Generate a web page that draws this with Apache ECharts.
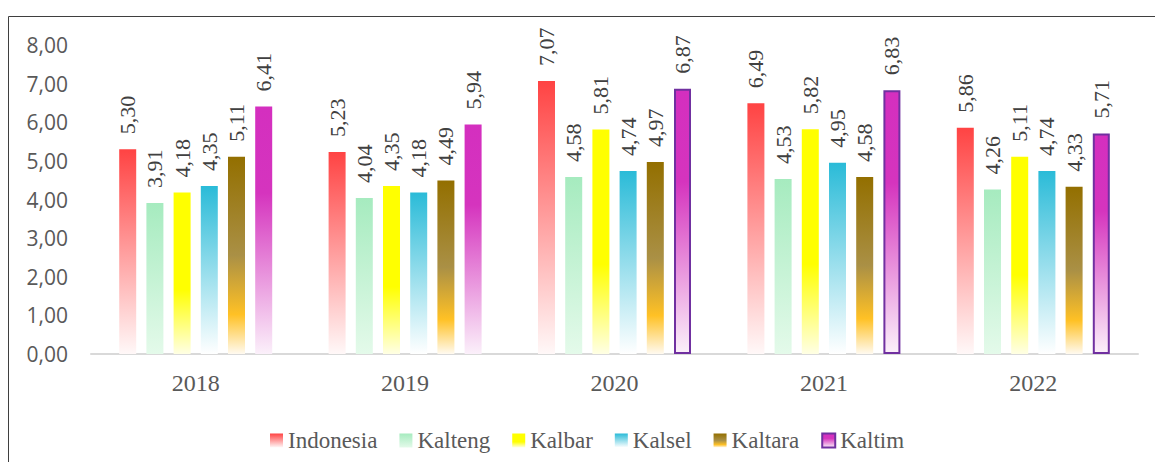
<!DOCTYPE html>
<html>
<head>
<meta charset="utf-8">
<script src="https://cdn.jsdelivr.net/npm/echarts@6/dist/echarts.min.js"></script>
<style>
html,body{margin:0;padding:0;background:#fff;}
#c{width:1155px;height:462px;}
</style>
</head>
<body>
<div id="c"></div>
<script>
var years = ['2018', '2019', '2020', '2021', '2022'];
var indonesia = [5.30, 5.23, 7.07, 6.49, 5.86];
var kalteng = [3.91, 4.04, 4.58, 4.53, 4.26];
var kalbar = [4.18, 4.35, 5.81, 5.82, 5.11];
var kalsel = [4.35, 4.18, 4.74, 4.95, 4.74];
var kaltara = [5.11, 4.49, 4.97, 4.58, 4.33];
var kaltim = [6.41, 5.94, 6.87, 6.83, 5.71];
var kaltimBordered = [false, false, true, true, true];
var yTicks = [0, 1, 2, 3, 4, 5, 6, 7, 8];

var SERIF = 'Liberation Serif';
function grad(stops) {
  return {type: 'linear', x: 0, y: 0, x2: 0, y2: 1,
    colorStops: stops.map(function (s) { return {offset: s[0], color: s[1]}; })};
}
var fills = {
  Indonesia: grad([[0, '#FF4343'], [1, '#FFF8F8']]),
  Kalteng: grad([[0, '#A6EBBF'], [1, '#E4FAEA']]),
  Kalbar: grad([[0, '#FFFF00'], [0.6, '#FFFF00'], [1, '#FFFFE4']]),
  Kalsel: grad([[0, '#2ABBD8'], [1, '#FFFFFF']]),
  Kaltara: grad([[0, '#936F00'], [0.5, '#AA9045'], [0.8, '#FFC125'], [1, '#FFFAF0']]),
  Kaltim: grad([[0, '#D42FBF'], [0.35, '#D534BE'], [1, '#FBF0FA']])
};
var fmt = function (v) { return Number(v).toFixed(2).replace('.', ','); };
function mkLabel() {
  return {
    show: true, position: 'top', rotate: 90, align: 'left', verticalAlign: 'middle',
    distance: 15, fontFamily: SERIF, fontSize: 22, color: '#404040',
    formatter: function (p) { return fmt(p.value); }
  };
}
function mk(name, vals) {
  return {
    name: name, type: 'bar', barWidth: 17, barGap: '60%',
    itemStyle: {color: fills[name]},
    label: mkLabel(),
    data: vals.map(function (v, i) {
      if (name === 'Kaltim' && kaltimBordered[i]) {
        return {value: v, itemStyle: {borderColor: '#7030A0', borderWidth: 2}};
      }
      return v;
    })
  };
}
var chart = echarts.init(document.getElementById('c'), null, {renderer: 'svg'});
chart.setOption({
  animation: false,
  textStyle: {fontFamily: SERIF},
  graphic: [{type: 'rect', shape: {x: 8.5, y: 16.5, width: 1300, height: 600},
    style: {fill: null, stroke: '#3F3F3F', lineWidth: 1}, silent: true}],
  grid: {left: 91, right: 17, top: 45, bottom: 108},
  legend: {
    left: 265, top: 424, icon: 'rect', itemWidth: 13, itemHeight: 14, itemGap: 22,
    textStyle: {fontFamily: SERIF, fontSize: 23, color: '#595959'},
    data: ['Indonesia', 'Kalteng', 'Kalbar', 'Kalsel', 'Kaltara',
      {name: 'Kaltim', itemStyle: {borderColor: '#7030A0', borderWidth: 2}}]
  },
  xAxis: {
    type: 'category', data: years,
    axisLine: {lineStyle: {color: '#D9D9D9', width: 2}},
    axisTick: {show: false},
    axisLabel: {fontFamily: SERIF, fontSize: 24, color: '#595959', margin: 17}
  },
  yAxis: {
    type: 'value', min: yTicks[0], max: yTicks[yTicks.length - 1], interval: 1,
    axisLine: {show: false}, axisTick: {show: false}, splitLine: {show: false},
    axisLabel: {fontFamily: 'Open Sans', fontSize: 21, color: '#595959', margin: 23, formatter: fmt}
  },
  series: [mk('Indonesia', indonesia), mk('Kalteng', kalteng), mk('Kalbar', kalbar),
    mk('Kalsel', kalsel), mk('Kaltara', kaltara), mk('Kaltim', kaltim)]
});
</script>
</body>
</html>
